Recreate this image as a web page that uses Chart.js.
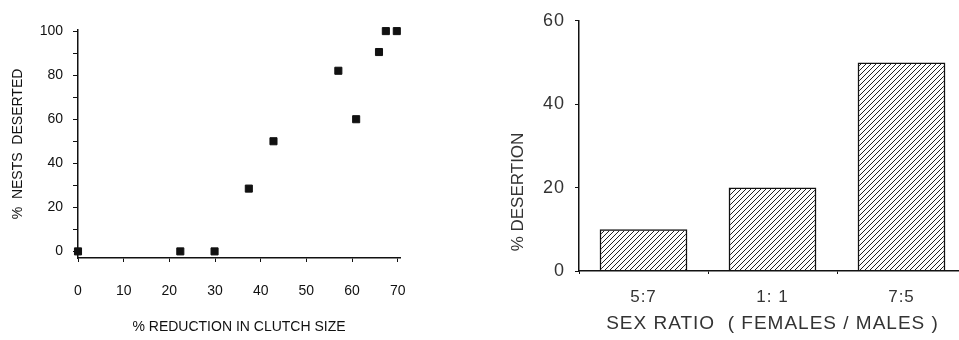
<!DOCTYPE html>
<html>
<head>
<meta charset="utf-8">
<script src="https://cdn.jsdelivr.net/npm/chart.js@4"></script>
<style>
  body { margin: 0; background: #fff; overflow: hidden; }
  .box { position: absolute; top: 0; height: 340px; }
</style>
</head>
<body>
<div class="box" style="left:0;width:480px"><canvas id="clutchChart"></canvas></div>
<div class="box" style="left:480px;width:487px"><canvas id="ratioChart"></canvas></div>
<script>
// --- left panel: % nests deserted vs % reduction in clutch size ---
const reductionPct = [0, 22.4, 29.9, 37.4, 42.8, 57, 60.9, 65.9, 67.4, 69.8];
const desertedPct  = [0, 0, 0, 28.5, 50, 82, 60, 90.5, 100, 100];
const clutchXTicks = [0, 10, 20, 30, 40, 50, 60, 70];
const clutchYTicks = [0, 10, 20, 30, 40, 50, 60, 70, 80, 90, 100];

// --- right panel: % desertion by sex ratio ---
const sexRatios    = ['5:7', '1: 1', '7:5'];
const desertionPct = [10, 20, 50];
const desertionTicks = [0, 20, 40, 60];

Chart.defaults.font.family = "'Liberation Sans', Arial, sans-serif";
Chart.defaults.animation = false;

const ink = '#111';

// diagonal hatch for the bars
function hatchPattern() {
    const c = document.createElement('canvas');
    c.width = 5; c.height = 5;
    const g = c.getContext('2d');
    g.strokeStyle = '#222';
    g.lineWidth = 1;
    g.beginPath();
    g.moveTo(0, 5); g.lineTo(5, 0);
    g.moveTo(-1, 1); g.lineTo(1, -1);
    g.moveTo(4, 6); g.lineTo(6, 4);
    g.stroke();
    return g.createPattern(c, 'repeat');
}

// --- CHART 1: scatter ---
new Chart(document.getElementById('clutchChart'), {
    type: 'scatter',
    data: {
        datasets: [{
            data: reductionPct.map((x, i) => ({ x: x, y: desertedPct[i] })),
            backgroundColor: ink,
            borderColor: ink,
            pointStyle: 'rect',
            pointRadius: 5,
            clip: false
        }]
    },
    options: {
        responsive: true,
        maintainAspectRatio: false,
        layout: { padding: { left: 0, top: 30, right: 80, bottom: 0 } },
        plugins: { legend: { display: false }, tooltip: { enabled: false } },
        scales: {
            x: {
                min: 0, max: 70.5,
                afterBuildTicks: a => { a.ticks = clutchXTicks.map(v => ({ value: v })); },
                afterFit: a => { a.height = 82; },
                border: { color: ink, width: 1.5 },
                grid: { drawOnChartArea: false, tickLength: 4, color: ink },
                ticks: { color: ink, font: { size: 14 }, padding: 21, maxRotation: 0 },
                title: { display: true, text: '% REDUCTION IN CLUTCH SIZE', color: ink,
                         font: { size: 14 }, padding: { top: 0, bottom: 4 } }
            },
            y: {
                min: -3, max: 100.5,
                afterBuildTicks: a => { a.ticks = clutchYTicks.map(v => ({ value: v })); },
                afterFit: a => { a.width = 78; },
                border: { color: ink, width: 1.5 },
                grid: { drawOnChartArea: false, tickLength: 5, color: ink },
                ticks: { color: ink, font: { size: 14 }, padding: 10,
                         callback: v => (v % 20 === 0 ? v : '') },
                title: { display: true, text: '%  NESTS  DESERTED', color: ink,
                         font: { size: 14 }, padding: { top: 10, bottom: 0 } }
            }
        }
    }
});

// y title of the bar chart sits low, drawn by hand
const sideTitle = {
    id: 'sideTitle',
    afterDraw(chart) {
        const ctx = chart.ctx;
        ctx.save();
        ctx.letterSpacing = '0px';
        ctx.translate(38, 192);
        ctx.rotate(-Math.PI / 2);
        ctx.font = "17px 'Liberation Sans', Arial, sans-serif";
        ctx.fillStyle = '#333';
        ctx.textAlign = 'center';
        ctx.textBaseline = 'middle';
        ctx.fillText('% DESERTION', 0, 0);
        ctx.restore();
    }
};

const spacing = {
    id: 'spacing',
    beforeDraw(chart) { chart.ctx.letterSpacing = '1px'; }
};

// --- CHART 2: bar ---
new Chart(document.getElementById('ratioChart'), {
    type: 'bar',
    data: {
        labels: sexRatios,
        datasets: [{
            data: desertionPct,
            backgroundColor: hatchPattern(),
            borderColor: ink,
            borderWidth: 1.5,
            categoryPercentage: 1,
            barPercentage: 0.68
        }]
    },
    options: {
        responsive: true,
        maintainAspectRatio: false,
        layout: { padding: { left: 0, top: 19, right: 1, bottom: 0 } },
        plugins: { legend: { display: false }, tooltip: { enabled: false } },
        scales: {
            x: {
                afterFit: a => { a.height = 69; },
                border: { color: ink, width: 1.5 },
                grid: { drawOnChartArea: false, tickLength: 3, color: ink, offset: true },
                ticks: { color: '#333', font: { size: 17 }, padding: 13 },
                title: { display: true, text: 'SEX RATIO  ( FEMALES / MALES )', color: '#333',
                         font: { size: 19 }, padding: { top: 0, bottom: 5 } }
            },
            y: {
                min: 0, max: 60,
                afterBuildTicks: a => { a.ticks = desertionTicks.map(v => ({ value: v })); },
                afterFit: a => { a.width = 99; },
                border: { color: ink, width: 1.5 },
                grid: { drawOnChartArea: false, tickLength: 4, color: ink },
                ticks: { color: '#333', font: { size: 18 }, padding: 10 }
            }
        }
    },
    plugins: [spacing, sideTitle]
});
</script>
</body>
</html>
